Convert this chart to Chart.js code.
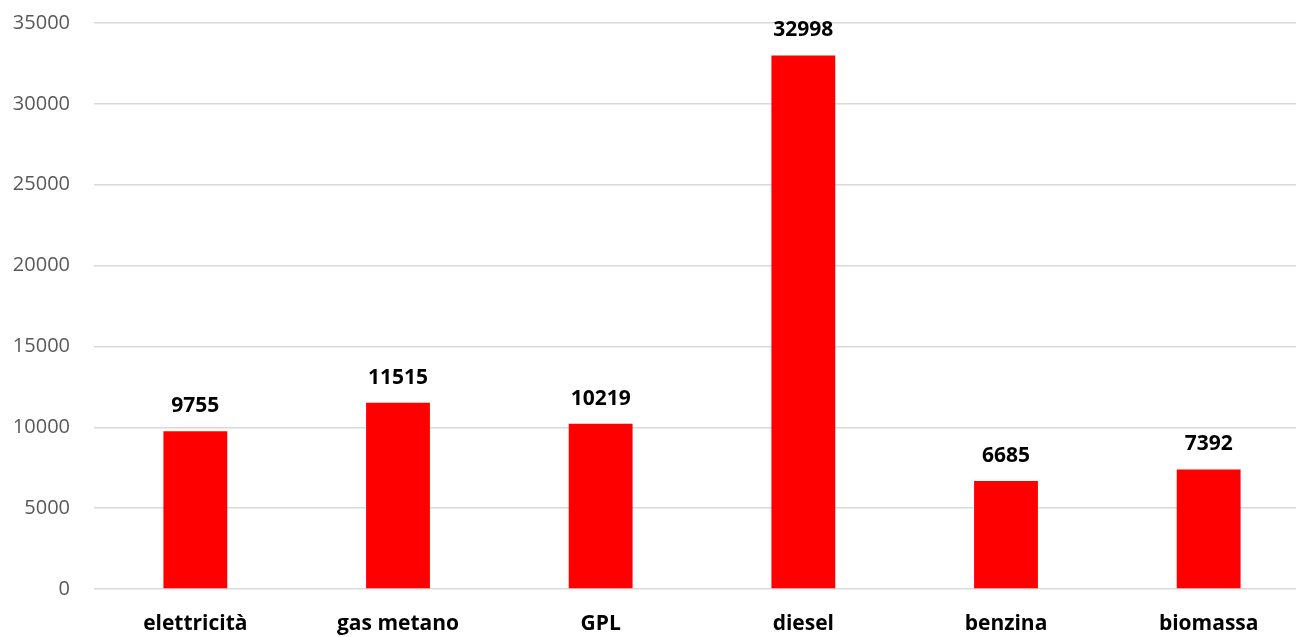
<!DOCTYPE html>
<html>
<head>
<meta charset="utf-8">
<script src="https://cdn.jsdelivr.net/npm/chart.js@4/dist/chart.umd.min.js"></script>
<style>
  html, body { margin: 0; padding: 0; background: #fff; overflow: hidden; }
  #wrap { width: 1296px; height: 637px; overflow: hidden; }
</style>
</head>
<body>
<div id="wrap"><canvas id="fuelChart" width="1310" height="637"></canvas></div>
<script>
// Chart data
const categories = ["elettricità", "gas metano", "GPL", "diesel", "benzina", "biomassa"];
const values = [9755, 11515, 10219, 32998, 6685, 7392];
const yTicks = [0, 5000, 10000, 15000, 20000, 25000, 30000, 35000];

const FONT = "'Open Sans', sans-serif";

// draws the value above each bar
const valueLabels = {
    id: "valueLabels",
    afterDatasetsDraw(chart) {
        const ctx = chart.ctx;
        const meta = chart.getDatasetMeta(0);
        ctx.save();
        ctx.font = "bold 21px " + FONT;
        ctx.fillStyle = "#000";
        ctx.textAlign = "center";
        ctx.textBaseline = "middle";
        meta.data.forEach((bar, i) => {
            ctx.fillText(values[i], bar.x, bar.y - 25);
        });
        ctx.restore();
    }
};

const ctx = document.getElementById("fuelChart").getContext("2d");
new Chart(ctx, {
    type: "bar",
    data: {
        labels: categories,
        datasets: [{
            data: values,
            backgroundColor: "#ff0000",
            barPercentage: 0.63,
            categoryPercentage: 0.5
        }]
    },
    options: {
        responsive: false,
        animation: false,
        layout: { padding: { top: 23, left: 0, right: 0, bottom: 0 } },
        plugins: {
            legend: { display: false },
            tooltip: { enabled: false }
        },
        scales: {
            x: {
                grid: { display: false },
                border: { display: false },
                ticks: {
                    color: "#000",
                    font: { family: FONT, size: 21, weight: "bold" },
                    padding: 14
                },
                afterFit(scale) {
                    scale.height = 48;
                    scale.paddingLeft = 0;
                    scale.paddingRight = 0;
                }
            },
            y: {
                min: 0,
                max: 35000,
                afterBuildTicks(scale) {
                    scale.ticks = yTicks.map(v => ({ value: v }));
                },
                grid: { color: "#d9d9d9", lineWidth: 1.5, drawTicks: false },
                border: { display: false },
                ticks: {
                    color: "#595959",
                    font: { family: FONT, size: 20 },
                    padding: 24,
                    callback: v => String(v)
                },
                afterFit(scale) {
                    scale.width = 94;
                    scale.paddingTop = 0;
                    scale.paddingBottom = 0;
                }
            }
        }
    },
    plugins: [valueLabels]
});
</script>
</body>
</html>
